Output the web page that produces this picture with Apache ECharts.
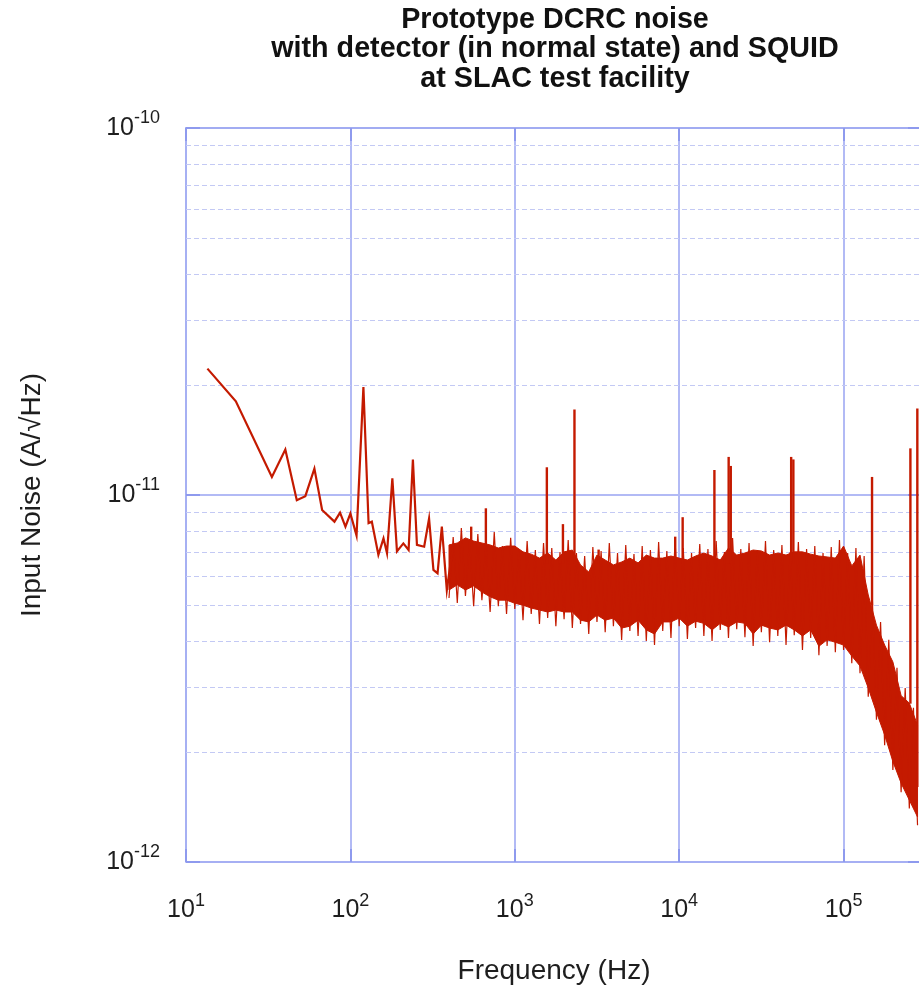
<!DOCTYPE html>
<html>
<head>
<meta charset="utf-8">
<script src="https://cdn.jsdelivr.net/npm/echarts@6/dist/echarts.min.js"></script>
<style>
html,body{margin:0;padding:0;background:#ffffff;}
#chart{width:919px;height:989px;}
</style>
</head>
<body>
<div id="chart"></div>
<script>
// ---------------- data ----------------
const titleLines = ['Prototype DCRC noise', 'with detector (in normal state) and SQUID', 'at SLAC test facility'];
const xName = 'Frequency (Hz)';
const yName = 'Input Noise (A/\u221AHz)';

const xTickValues = [10, 100, 1000, 10000, 100000];
const yTickValues = [1e-12, 1e-11, 1e-10];
const yMinorValues = [2e-12, 3e-12, 4e-12, 5e-12, 6e-12, 7e-12, 8e-12, 9e-12,
                      2e-11, 3e-11, 4e-11, 5e-11, 6e-11, 7e-11, 8e-11, 9e-11];

// low-frequency part of the trace (Hz, A/sqrt(Hz))
const lowFreq = [13.5, 20.1, 33.3, 40.2, 47.2, 53.2, 60.4, 67.3, 80, 86.5,
                 93.3, 100, 109, 120, 129, 135, 148, 159, 167, 180,
                 192, 210, 226, 240, 254, 281, 301, 320, 339, 360,
                 386, 420];
const lowVal  = [2.21e-11, 1.80e-11, 1.12e-11, 1.33e-11, 9.68e-12, 9.93e-12, 1.18e-11, 9.1e-12, 8.46e-12, 8.95e-12,
                 8.2e-12, 8.9e-12, 7.75e-12, 1.97e-11, 8.38e-12, 8.46e-12, 6.87e-12, 7.62e-12, 6.94e-12, 1.11e-11,
                 7.02e-12, 7.38e-12, 7.08e-12, 1.25e-11, 7.31e-12, 7.23e-12, 8.63e-12, 6.25e-12, 6.12e-12, 8.2e-12,
                 5.51e-12, 7.23e-12];

// dense noise band: frequency, upper and lower edge of the solid part
const bandFreq = [398, 447, 501, 562, 631, 708, 794, 891, 1000, 1122,
                  1259, 1413, 1585, 1778, 1995, 2239, 2512, 2818, 3162, 3548,
                  3981, 4467, 5012, 5623, 6310, 7079, 7943, 8913, 10000, 11220,
                  12590, 14130, 15850, 17780, 19950, 22390, 25120, 28180, 31620, 35480,
                  39810, 44670, 50120, 56230, 63100, 70790, 79430, 89130, 100000, 112200,
                  125900, 141300, 158500, 177800, 199500, 223900, 251200, 281800];
const bandTop = [7.31e-12, 7.40e-12, 7.64e-12, 7.49e-12, 7.40e-12, 7.31e-12, 7.17e-12, 7.26e-12, 7.26e-12, 7.00e-12,
                 6.90e-12, 6.73e-12, 6.95e-12, 6.65e-12, 7.00e-12, 7.08e-12, 6.45e-12, 6.17e-12, 6.86e-12, 6.65e-12,
                 6.45e-12, 6.57e-12, 6.73e-12, 6.53e-12, 6.86e-12, 6.73e-12, 6.73e-12, 6.82e-12, 6.73e-12, 6.65e-12,
                 6.82e-12, 6.95e-12, 6.82e-12, 6.65e-12, 7.17e-12, 6.86e-12, 6.95e-12, 7.08e-12, 7.04e-12, 6.86e-12,
                 6.95e-12, 6.86e-12, 7.00e-12, 7.00e-12, 6.90e-12, 6.82e-12, 6.78e-12, 6.73e-12, 7.26e-12, 6.41e-12,
                 6.86e-12, 5.34e-12, 4.42e-12, 3.90e-12, 3.51e-12, 2.84e-12, 2.71e-12, 2.36e-12];
const bandBottom = [5.51e-12, 5.69e-12, 5.51e-12, 5.65e-12, 5.44e-12, 5.28e-12, 5.17e-12, 5.17e-12, 5.07e-12, 5.01e-12,
                    4.92e-12, 4.86e-12, 4.80e-12, 4.86e-12, 4.80e-12, 4.80e-12, 4.56e-12, 4.51e-12, 4.71e-12, 4.56e-12,
                    4.62e-12, 4.34e-12, 4.39e-12, 4.56e-12, 4.29e-12, 4.18e-12, 4.51e-12, 4.51e-12, 4.62e-12, 4.39e-12,
                    4.53e-12, 4.47e-12, 4.29e-12, 4.47e-12, 4.37e-12, 4.51e-12, 4.47e-12, 4.18e-12, 4.42e-12, 4.34e-12,
                    4.29e-12, 4.42e-12, 4.29e-12, 4.13e-12, 4.29e-12, 3.87e-12, 4.03e-12, 3.97e-12, 3.90e-12, 3.64e-12,
                    3.42e-12, 2.98e-12, 2.56e-12, 2.22e-12, 1.88e-12, 1.64e-12, 1.475e-12, 1.326e-12];

// noise excursions beyond the solid band: lows at bandFreq, highs at the frequencies in between
const noiseMidFreq = [422, 473, 531, 596, 668, 750, 841, 944, 1059, 1189,
                      1334, 1496, 1679, 1884, 2113, 2371, 2661, 2985, 3350, 3758,
                      4217, 4732, 5309, 5957, 6683, 7499, 8414, 9441, 10590, 11890,
                      13340, 14960, 16790, 18840, 21130, 23710, 26610, 29850, 33500, 37580,
                      42170, 47320, 53090, 59570, 66830, 74990, 84140, 94410, 105900, 118900,
                      133400, 149600, 167900, 188400, 211300, 237100, 266100];
const noiseHigh = [7.68e-12, 8.13e-12, 7.54e-12, 7.83e-12, 7.31e-12, 7.93e-12, 7.26e-12, 7.64e-12, 7.13e-12, 7.49e-12,
                   7.08e-12, 7.40e-12, 7.17e-12, 6.99e-12, 7.54e-12, 6.95e-12, 6.82e-12, 7.22e-12, 7.04e-12, 7.40e-12,
                   6.95e-12, 7.31e-12, 6.91e-12, 7.26e-12, 7.08e-12, 7.45e-12, 7.04e-12, 7.54e-12, 7.17e-12, 6.95e-12,
                   7.35e-12, 7.13e-12, 7.49e-12, 6.99e-12, 7.64e-12, 7.13e-12, 7.40e-12, 7.04e-12, 7.49e-12, 7.08e-12,
                   7.31e-12, 6.99e-12, 7.45e-12, 7.13e-12, 7.26e-12, 6.95e-12, 7.22e-12, 7.54e-12, 6.95e-12, 7.17e-12,
                   6.82e-12, 5.24e-12, 4.51e-12, 4.03e-12, 3.38e-12, 2.98e-12, 2.63e-12];
const noiseLow = [5.24e-12, 5.08e-12, 5.31e-12, 4.98e-12, 5.17e-12, 4.80e-12, 4.98e-12, 4.74e-12, 4.89e-12, 4.56e-12,
                  4.74e-12, 4.45e-12, 4.62e-12, 4.39e-12, 4.59e-12, 4.34e-12, 4.45e-12, 4.18e-12, 4.51e-12, 4.23e-12,
                  4.39e-12, 4.03e-12, 4.26e-12, 4.13e-12, 4.00e-12, 3.90e-12, 4.26e-12, 4.08e-12, 4.39e-12, 4.05e-12,
                  4.34e-12, 4.13e-12, 4.00e-12, 4.29e-12, 4.08e-12, 4.31e-12, 4.10e-12, 3.88e-12, 4.23e-12, 3.97e-12,
                  4.13e-12, 3.90e-12, 4.15e-12, 3.78e-12, 4.08e-12, 3.66e-12, 3.88e-12, 3.73e-12, 3.78e-12, 3.48e-12,
                  3.27e-12, 2.82e-12, 2.44e-12, 2.08e-12, 1.78e-12, 1.55e-12, 1.40e-12, 1.26e-12];

// narrow spectral lines on top of the band
const spikeFreq = [543, 667, 1567, 1963, 2307, 3236, 9460, 10500, 16380, 20000, 20600, 48000, 49500, 149000, 255000, 281000];
const spikeBase = [7.0e-12, 7.0e-12, 6.5e-12, 6.5e-12, 6.5e-12, 6.5e-12, 6.5e-12, 6.5e-12, 6.5e-12, 6.5e-12, 6.5e-12, 6.5e-12, 6.5e-12, 5.0e-12, 2.7e-12, 1.6e-12];
const spikePeak = [8.2e-12, 9.2e-12, 1.19e-11, 8.33e-12, 1.71e-11, 7.1e-12, 7.7e-12, 8.7e-12, 1.17e-11, 1.27e-11, 1.2e-11, 1.27e-11, 1.25e-11, 1.12e-11, 1.34e-11, 1.72e-11];

// ---------------- chart ----------------
const RED = '#c41a00';
const GRID_MAJOR = '#b2baf5';
const GRID_MINOR = '#c3c9f4';
const FRAME = '#a2acf2';
const TICK = '#8e9aee';
const TEXT = '#1e1e1e';
const FONT = "'Liberation Sans', Arial, Helvetica, sans-serif";

function powLabel(ticks) {
  return function (v) {
    const lv = Math.log10(v);
    const hit = ticks.find(t => Math.abs(Math.log10(t) - lv) < 1e-6);
    if (hit === undefined) return '';
    return '{b|10}{s|' + Math.round(Math.log10(hit)) + '}';
  };
}
const labelRich = {
  b: {fontSize: 25, color: TEXT, fontFamily: FONT},
  s: {fontSize: 18, color: TEXT, fontFamily: FONT, padding: [0, 0, 19, 0]}
};

const lowData = lowFreq.map((f, i) => [f, lowVal[i]]);
const bandData = bandFreq.map((f, i) => [f, bandTop[i], bandBottom[i]]);
const noiseData = [];
for (let i = 0; i < noiseMidFreq.length; i++) {
  noiseData.push([bandFreq[i], noiseLow[i]]);
  noiseData.push([noiseMidFreq[i], noiseHigh[i]]);
}
noiseData.push([bandFreq[bandFreq.length - 1], noiseLow[noiseLow.length - 1]]);
const spikeData = spikeFreq.map((f, i) => [f, spikeBase[i], spikePeak[i]]);
const minorData = yMinorValues.map(v => [xTickValues[0], v]);

const chart = echarts.init(document.getElementById('chart'), null, {renderer: 'canvas'});
chart.setOption({
  animation: false,
  backgroundColor: '#ffffff',
  tooltip: {show: false},
  axisPointer: {show: false},
  title: {
    text: titleLines.join('\n'),
    left: 550,
    top: 0,
    textAlign: 'center',
    textStyle: {fontSize: 28.7, fontWeight: 'bold', color: '#111', fontFamily: FONT, lineHeight: 29.5}
  },
  grid: {left: 186, top: 128, bottom: 127, right: -3, containLabel: false, outerBoundsMode: 'none'},
  xAxis: [{
    type: 'log', logBase: 10, min: 10, max: 300000, position: 'bottom',
    axisLine: {show: true, onZero: false, lineStyle: {color: FRAME, width: 1.5}},
    axisTick: {show: true, inside: true, length: 13, lineStyle: {color: TICK, width: 2}},
    axisLabel: {show: true, margin: 30, formatter: powLabel(xTickValues), rich: labelRich, showMinLabel: true, showMaxLabel: true},
    splitLine: {show: true, lineStyle: {color: GRID_MAJOR, width: 2, opacity: 1}},
    minorTick: {show: false}, minorSplitLine: {show: false},
    name: xName, nameLocation: 'middle', nameGap: 95,
    nameTextStyle: {fontSize: 28, color: TEXT, fontFamily: FONT}
  }, {
    type: 'log', logBase: 10, min: 10, max: 300000, position: 'top',
    axisLine: {show: true, onZero: false, lineStyle: {color: FRAME, width: 2}},
    axisTick: {show: true, inside: true, length: 13, lineStyle: {color: TICK, width: 2}},
    axisLabel: {show: false}, splitLine: {show: false}
  }],
  yAxis: [{
    type: 'log', logBase: 10, min: 1e-12, max: 1e-10, position: 'left',
    axisLine: {show: true, onZero: false, lineStyle: {color: FRAME, width: 1.5}},
    axisTick: {show: true, inside: true, length: 14, lineStyle: {color: TICK, width: 2}},
    axisLabel: {show: true, margin: 26, formatter: powLabel(yTickValues), rich: labelRich},
    splitLine: {show: true, lineStyle: {color: GRID_MAJOR, width: 2, opacity: 1}},
    minorTick: {show: false}, minorSplitLine: {show: false},
    name: yName, nameLocation: 'middle', nameGap: 140, nameRotate: 90,
    nameTextStyle: {fontSize: 28, color: TEXT, fontFamily: FONT}
  }, {
    type: 'log', logBase: 10, min: 1e-12, max: 1e-10, position: 'right',
    axisLine: {show: true, onZero: false, lineStyle: {color: FRAME, width: 1.5}},
    axisTick: {show: true, inside: true, length: 14, lineStyle: {color: TICK, width: 2}},
    axisLabel: {show: false}, splitLine: {show: false}
  }],
  series: [{
    name: 'minor grid', type: 'custom', xAxisIndex: 0, yAxisIndex: 0, z: 1, silent: true,
    data: minorData,
    encode: {x: 0, y: 1},
    renderItem: function (params, api) {
      const cs = params.coordSys;
      const y = Math.round(api.coord([api.value(0), api.value(1)])[1]) + 0.5;
      return {type: 'line', shape: {x1: cs.x, y1: y, x2: cs.x + cs.width, y2: y},
              style: {stroke: GRID_MINOR, lineWidth: 1, lineDash: [5, 3]}};
    }
  }, {
    name: 'band', type: 'custom', xAxisIndex: 0, yAxisIndex: 0, z: 3, silent: true,
    data: bandData,
    encode: {x: 0, y: [1, 2]},
    renderItem: function (params, api) {
      if (params.dataIndex !== 0) return null;
      const pts = [];
      for (let i = 0; i < bandData.length; i++) pts.push(api.coord([bandData[i][0], bandData[i][1]]));
      for (let i = bandData.length - 1; i >= 0; i--) pts.push(api.coord([bandData[i][0], bandData[i][2]]));
      return {type: 'polygon', shape: {points: pts}, style: {fill: RED, stroke: RED, lineWidth: 1}};
    }
  }, {
    name: 'noise', type: 'line', xAxisIndex: 0, yAxisIndex: 0, z: 4, silent: true,
    data: noiseData, symbol: 'none', showSymbol: false,
    lineStyle: {color: RED, width: 1.2}
  }, {
    name: 'low', type: 'line', xAxisIndex: 0, yAxisIndex: 0, z: 4, silent: true,
    data: lowData, symbol: 'none', showSymbol: false,
    lineStyle: {color: RED, width: 2.2, join: 'miter'}
  }, {
    name: 'lines', type: 'custom', xAxisIndex: 0, yAxisIndex: 0, z: 4, silent: true,
    data: spikeData,
    encode: {x: 0, y: [1, 2]},
    renderItem: function (params, api) {
      const p0 = api.coord([api.value(0), api.value(1)]);
      const p1 = api.coord([api.value(0), api.value(2)]);
      return {type: 'line', shape: {x1: p0[0], y1: p0[1], x2: p1[0], y2: p1[1]}, style: {stroke: RED, lineWidth: 2.4}};
    }
  }]
});
</script>
</body>
</html>
